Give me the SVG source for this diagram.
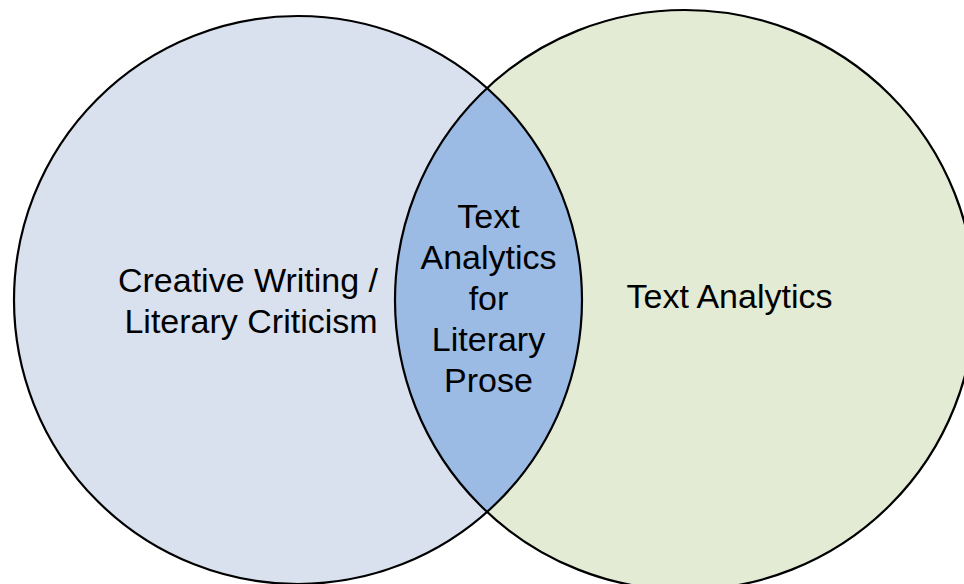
<svg xmlns="http://www.w3.org/2000/svg" width="964" height="584" viewBox="0 0 964 584">
  <style>
    .outline { fill: none; stroke: #000000; stroke-width: 2.2; }
    .label { font-family: "Liberation Sans", Arial, sans-serif; font-size: 34px; fill: #000000; text-anchor: middle; }
  </style>
  <rect x="0" y="0" width="964" height="584" fill="#ffffff"/>
  <!-- Left set -->
  <g id="creative-writing">
    <circle cx="298" cy="300" r="284" fill="#d9e0ee"/>
  </g>
  <!-- Right set -->
  <g id="text-analytics">
    <circle cx="685" cy="300" r="290" fill="#e3ebd4"/>
  </g>
  <!-- Overlap region -->
  <g id="overlap">
    <path d="M487,88 A290,290 0 0 0 487,512 A284,284 0 0 0 487,88 Z" fill="#9bbbe4"/>
  </g>
  <!-- Outlines drawn over the fills -->
  <g id="outlines">
    <circle class="outline" cx="298" cy="300" r="284"/>
    <circle class="outline" cx="685" cy="300" r="290"/>
  </g>
  <g id="labels">
    <text class="label" x="248" y="292">Creative Writing /</text>
    <text class="label" x="251" y="333">Literary Criticism</text>
    <text class="label" x="729.5" y="308">Text Analytics</text>
    <text class="label" x="488.5" y="228">Text</text>
    <text class="label" x="488.5" y="269">Analytics</text>
    <text class="label" x="488.5" y="310">for</text>
    <text class="label" x="488.5" y="351">Literary</text>
    <text class="label" x="488.5" y="392">Prose</text>
  </g>
</svg>
